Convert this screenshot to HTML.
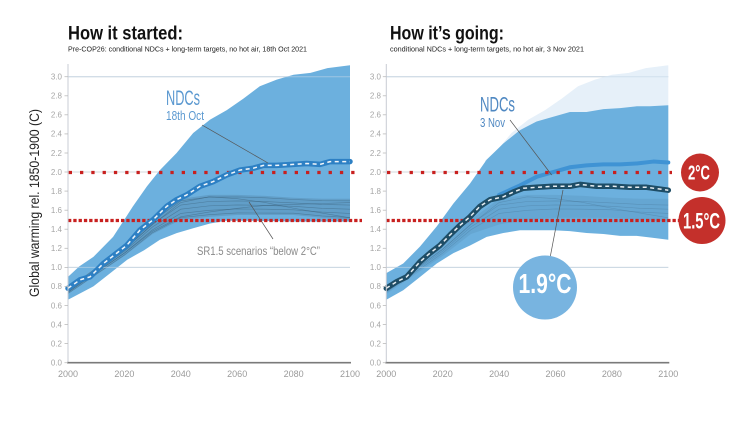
<!DOCTYPE html>
<html>
<head>
<meta charset="utf-8">
<style>
html,body{margin:0;padding:0;background:#fff;}
svg{display:block;}
text{font-family:"Liberation Sans Narrow","Liberation Sans",sans-serif;}
</style>
</head>
<body>
<svg width="754" height="422" viewBox="0 0 754 422" xmlns="http://www.w3.org/2000/svg">
<rect width="754" height="422" fill="#fff"/>

<!-- Titles -->
<text x="68" y="39.5" font-size="19" font-weight="bold" fill="#111" textLength="115" lengthAdjust="spacingAndGlyphs">How it started:</text>
<text x="68" y="51.5" font-size="7.5" fill="#222" textLength="239" lengthAdjust="spacingAndGlyphs">Pre-COP26: conditional NDCs + long-term targets, no hot air, 18th Oct 2021</text>
<text x="390" y="39.5" font-size="19" font-weight="bold" fill="#111" textLength="114" lengthAdjust="spacingAndGlyphs">How it’s going:</text>
<text x="390" y="51.5" font-size="7.5" fill="#222" textLength="194" lengthAdjust="spacingAndGlyphs">conditional NDCs + long-term targets, no hot air, 3 Nov 2021</text>

<!-- Y axis label -->
<text transform="translate(39,203) rotate(-90)" text-anchor="middle" font-size="14" fill="#222" textLength="188" lengthAdjust="spacingAndGlyphs">Global warming rel. 1850-1900 (C)</text>

<!-- ================= LEFT CHART ================= -->
<g>
  <!-- gridlines -->
  <g stroke="#d3d8de" stroke-width="1">
    <line x1="68" y1="76.7" x2="350" y2="76.7"/>
    <line x1="68" y1="172" x2="350" y2="172"/>
    <line x1="68" y1="267.4" x2="350" y2="267.4"/>
  </g>
  <!-- band -->
  <path fill="#6cb0de" d="M68,276.9 L79.3,266.4 L93.4,256.9 L113.1,236.9 L132.9,206.4 L147,186.3 L159.9,170.1 L176.6,153 L193.2,133 L210.1,119.6 L226.8,110.1 L243.4,98.6 L259.8,86.2 L276.7,79.6 L293.6,74.8 L310.5,72.9 L327.4,68.1 L350,65.3 L350,221.6 L293.6,221.6 L251.3,220.7 L225.9,220.7 L210.1,223.5 L193.2,228.3 L176.6,233.1 L159.9,239.7 L144.1,250.2 L127.2,259.7 L110.3,273.1 L93.4,286.4 L68,299.8 Z"/>
  <!-- scenario bundle -->
  <g transform="translate(68,362.7) scale(2.82,-95.33)">
    <path fill="#3b5f7a" fill-opacity="0.22" d="M0,.72 L10,.92 L20,1.12 L30,1.35 L40,1.5 L50,1.53 L60,1.55 L70,1.55 L80,1.55 L90,1.52 L100,1.5 L100,1.72 L90,1.72 L80,1.73 L70,1.75 L60,1.76 L50,1.76 L40,1.72 L30,1.5 L20,1.22 L10,1 L0,.78 Z"/>
    <g fill="none" stroke="#2c4a60" stroke-opacity="0.4" stroke-width="0.6" vector-effect="non-scaling-stroke">
      <path vector-effect="non-scaling-stroke" d="M0,.726 L10,.928 L20,1.13 L30,1.365 L40,1.522 L50,1.553 L60,1.571 L70,1.57 L80,1.568 L90,1.54 L100,1.522"/>
      <path vector-effect="non-scaling-stroke" d="M0,.738 L10,.944 L20,1.15 L30,1.395 L40,1.566 L50,1.599 L60,1.613 L70,1.61 L80,1.604 L90,1.58 L100,1.566"/>
      <path vector-effect="non-scaling-stroke" d="M0,.75 L10,.96 L20,1.17 L30,1.425 L40,1.61 L50,1.645 L60,1.655 L70,1.65 L80,1.64 L90,1.62 L100,1.61"/>
      <path vector-effect="non-scaling-stroke" d="M0,.762 L10,.976 L20,1.19 L30,1.455 L40,1.654 L50,1.691 L60,1.697 L70,1.69 L80,1.676 L90,1.66 L100,1.654"/>
      <path vector-effect="non-scaling-stroke" d="M0,.774 L10,.992 L20,1.21 L30,1.485 L40,1.698 L50,1.737 L60,1.739 L70,1.73 L80,1.712 L90,1.7 L100,1.698"/>
      <path vector-effect="non-scaling-stroke" d="M0,.75 L10,.97 L20,1.19 L30,1.45 L40,1.68 L50,1.74 L60,1.72 L70,1.68 L80,1.62 L90,1.57 L100,1.52"/>
      <path vector-effect="non-scaling-stroke" d="M0,.74 L10,.95 L20,1.15 L30,1.38 L40,1.53 L50,1.58 L60,1.62 L70,1.65 L80,1.66 L90,1.67 L100,1.68"/>
    </g>
  </g>
  <!-- gridline overlay -->
  <g stroke="#c3d6e6" stroke-opacity="0.6" stroke-width="1">
    <line x1="68" y1="76.7" x2="350" y2="76.7"/>
    <line x1="68" y1="267.4" x2="350" y2="267.4"/>
  </g>
  <!-- red dotted lines -->
  <line x1="68.7" y1="172.5" x2="362" y2="172.5" stroke="#c8201f" stroke-width="3.3" stroke-dasharray="3.3 8"/>
  <line x1="68" y1="220.5" x2="362" y2="220.5" stroke="#c8201f" stroke-width="3.3" stroke-dasharray="3.3 2"/>
  <!-- NDC line -->
  <polyline fill="none" stroke="#2d80c4" stroke-width="5.5" stroke-linejoin="round" stroke-linecap="round" points="68,288.3 80.1,279.8 90,276.9 103.3,263.6 116.8,253.1 126.7,245.4 139.9,230.2 153.2,219.7 166.7,206.4 176.6,199.7 186.7,194.9 200,186.3 213.2,181.6 226.8,174.9 240,170.1 253.3,168.2 263.4,165.4 276.7,165.4 293.3,164.4 306.6,163.5 320.1,164.4 330,161.6 350,161.6"/>
  <polyline fill="none" stroke="#f2f6fa" stroke-width="1.5" stroke-dasharray="4 3.5" stroke-linejoin="round" points="68,288.3 80.1,279.8 90,276.9 103.3,263.6 116.8,253.1 126.7,245.4 139.9,230.2 153.2,219.7 166.7,206.4 176.6,199.7 186.7,194.9 200,186.3 213.2,181.6 226.8,174.9 240,170.1 253.3,168.2 263.4,165.4 276.7,165.4 293.3,164.4 306.6,163.5 320.1,164.4 330,161.6 350,161.6"/>
  <!-- axes -->
  <line x1="68" y1="64" x2="68" y2="363" stroke="#c8ccd4" stroke-width="1"/>
  <line x1="67" y1="362.7" x2="351" y2="362.7" stroke="#7a7a7a" stroke-width="1.6"/>
  <g stroke="#bbb" stroke-width="0.8">
    <line x1="64.5" y1="362.7" x2="68" y2="362.7"/><line x1="64.5" y1="343.6" x2="68" y2="343.6"/><line x1="64.5" y1="324.6" x2="68" y2="324.6"/><line x1="64.5" y1="305.5" x2="68" y2="305.5"/><line x1="64.5" y1="286.4" x2="68" y2="286.4"/><line x1="64.5" y1="267.4" x2="68" y2="267.4"/><line x1="64.5" y1="248.3" x2="68" y2="248.3"/><line x1="64.5" y1="229.2" x2="68" y2="229.2"/><line x1="64.5" y1="210.2" x2="68" y2="210.2"/><line x1="64.5" y1="191.1" x2="68" y2="191.1"/><line x1="64.5" y1="172" x2="68" y2="172"/><line x1="64.5" y1="153" x2="68" y2="153"/><line x1="64.5" y1="133.9" x2="68" y2="133.9"/><line x1="64.5" y1="114.8" x2="68" y2="114.8"/><line x1="64.5" y1="95.8" x2="68" y2="95.8"/><line x1="64.5" y1="76.7" x2="68" y2="76.7"/>
  </g>
  <g font-size="8" fill="#a6a6a6" text-anchor="end" style="font-family:'Liberation Sans',sans-serif">
    <text x="62" y="365.5">0.0</text><text x="62" y="346.4">0.2</text><text x="62" y="327.4">0.4</text><text x="62" y="308.3">0.6</text><text x="62" y="289.2">0.8</text><text x="62" y="270.2">1.0</text><text x="62" y="251.1">1.2</text><text x="62" y="232">1.4</text><text x="62" y="213">1.6</text><text x="62" y="193.9">1.8</text><text x="62" y="174.8">2.0</text><text x="62" y="155.8">2.2</text><text x="62" y="136.7">2.4</text><text x="62" y="117.6">2.6</text><text x="62" y="98.6">2.8</text><text x="62" y="79.5">3.0</text>
  </g>
  <g font-size="9" fill="#9a9a9a" text-anchor="middle" style="font-family:'Liberation Sans',sans-serif">
    <text x="68" y="377">2000</text><text x="124.4" y="377">2020</text><text x="180.8" y="377">2040</text><text x="237.2" y="377">2060</text><text x="293.6" y="377">2080</text><text x="350" y="377">2100</text>
  </g>
  <!-- annotations -->
  <line x1="202" y1="125" x2="268" y2="163" stroke="#555" stroke-width="0.7"/>
  <line x1="249" y1="202" x2="273" y2="239" stroke="#555" stroke-width="0.7"/>
  <text x="166" y="105" font-size="21" fill="#5a98d0" textLength="34" lengthAdjust="spacingAndGlyphs">NDCs</text>
  <text x="166" y="120" font-size="12.5" fill="#5a98d0" textLength="38" lengthAdjust="spacingAndGlyphs">18th Oct</text>
  <text x="197" y="255" font-size="12" fill="#8a8a8a" textLength="123" lengthAdjust="spacingAndGlyphs">SR1.5 scenarios “below 2°C”</text>
</g>

<!-- ================= RIGHT CHART ================= -->
<g>
  <g stroke="#d3d8de" stroke-width="1">
    <line x1="386.3" y1="76.7" x2="668.3" y2="76.7"/>
    <line x1="386.3" y1="172" x2="668.3" y2="172"/>
    <line x1="386.3" y1="267.4" x2="668.3" y2="267.4"/>
  </g>
  <g transform="translate(386.3,362.7) scale(2.82,-95.33)">
    <path fill="#e6f0f9" d="M35,2.12 L38.5,2.2 L44.4,2.41 L50.4,2.55 L56.3,2.65 L62.2,2.77 L68,2.9 L74,2.97 L80,3.02 L86,3.04 L92,3.09 L100,3.12 L100,2.0 L35,2.0 Z"/>
    <path fill="#6cb0de" d="M0,.94 L6,1.04 L12,1.22 L17.9,1.43 L23.8,1.67 L29.7,1.88 L35.6,2.13 L41.5,2.3 L47.4,2.44 L53.3,2.53 L59.2,2.58 L65.1,2.63 L71,2.63 L77,2.66 L82.9,2.67 L88.8,2.69 L93.5,2.69 L100,2.7 L100,1.29 L94.7,1.31 L88.8,1.33 L82.9,1.33 L77,1.35 L71,1.36 L65.1,1.38 L59.2,1.39 L47.4,1.39 L41.5,1.36 L35.6,1.32 L29.7,1.23 L23.8,1.15 L17.9,1.04 L12,.9 L6,.76 L0,.66 Z"/>
    <path fill="#3b5f7a" fill-opacity="0.12" d="M0,.72 L10,.92 L20,1.12 L30,1.35 L40,1.45 L50,1.5 L60,1.52 L70,1.52 L80,1.52 L90,1.5 L100,1.48 L100,1.72 L90,1.72 L80,1.73 L70,1.75 L60,1.76 L50,1.76 L40,1.72 L30,1.5 L20,1.22 L10,1 L0,.78 Z"/>
    <g fill="none" stroke="#2c4a60" stroke-opacity="0.22" stroke-width="0.6">
      <path vector-effect="non-scaling-stroke" d="M0,.738 L10,.944 L20,1.15 L30,1.395 L40,1.566 L50,1.599 L60,1.613 L70,1.61 L80,1.604 L90,1.58 L100,1.566"/>
      <path vector-effect="non-scaling-stroke" d="M0,.75 L10,.96 L20,1.17 L30,1.425 L40,1.61 L50,1.645 L60,1.655 L70,1.65 L80,1.64 L90,1.62 L100,1.61"/>
      <path vector-effect="non-scaling-stroke" d="M0,.762 L10,.976 L20,1.19 L30,1.455 L40,1.654 L50,1.691 L60,1.697 L70,1.69 L80,1.676 L90,1.66 L100,1.654"/>
      <path vector-effect="non-scaling-stroke" d="M0,.75 L10,.97 L20,1.19 L30,1.45 L40,1.68 L50,1.74 L60,1.72 L70,1.68 L80,1.62 L90,1.57 L100,1.52"/>
    </g>
    <path fill="none" stroke="#3f93d4" stroke-width="4" stroke-linecap="round" stroke-linejoin="round" vector-effect="non-scaling-stroke" d="M40,1.76 L47.4,1.86 L53.3,1.95 L59.2,2 L65.1,2.05 L71,2.07 L77,2.08 L82.9,2.08 L88.8,2.09 L94.7,2.11 L100,2.1"/>
  </g>
  <g stroke="#c3d6e6" stroke-opacity="0.6" stroke-width="1">
    <line x1="386.3" y1="76.7" x2="668.3" y2="76.7"/>
    <line x1="386.3" y1="267.4" x2="668.3" y2="267.4"/>
  </g>
  <line x1="387" y1="172.5" x2="672" y2="172.5" stroke="#c8201f" stroke-width="3.3" stroke-dasharray="3.3 8"/>
  <line x1="386.3" y1="220.5" x2="682" y2="220.5" stroke="#c8201f" stroke-width="3.3" stroke-dasharray="3.3 2"/>
  <polyline fill="none" stroke="#1e4d66" stroke-width="5.5" stroke-linejoin="round" stroke-linecap="round" points="386.3,288.3 396.7,281.7 406.6,276.9 420.1,261.7 430,253.1 439.9,245.4 450,235 459.9,225.4 470,216.8 479.9,206.4 490.1,199.7 503.3,196.8 513.2,192.1 523.4,188.2 536.6,187.3 553.2,186.3 569.9,186.3 580,184.4 596.7,186.3 613.3,186.3 630,187.3 646.6,187.3 668.3,190.2"/>
  <polyline fill="none" stroke="#e8edf0" stroke-width="1.5" stroke-dasharray="4 3.5" stroke-linejoin="round" points="386.3,288.3 396.7,281.7 406.6,276.9 420.1,261.7 430,253.1 439.9,245.4 450,235 459.9,225.4 470,216.8 479.9,206.4 490.1,199.7 503.3,196.8 513.2,192.1 523.4,188.2 536.6,187.3 553.2,186.3 569.9,186.3 580,184.4 596.7,186.3 613.3,186.3 630,187.3 646.6,187.3 668.3,190.2"/>
  <!-- axes -->
  <line x1="386.3" y1="64" x2="386.3" y2="363" stroke="#c8ccd4" stroke-width="1"/>
  <line x1="385.3" y1="362.7" x2="669.3" y2="362.7" stroke="#7a7a7a" stroke-width="1.6"/>
  <g stroke="#bbb" stroke-width="0.8">
    <line x1="382.8" y1="362.7" x2="386.3" y2="362.7"/><line x1="382.8" y1="343.6" x2="386.3" y2="343.6"/><line x1="382.8" y1="324.6" x2="386.3" y2="324.6"/><line x1="382.8" y1="305.5" x2="386.3" y2="305.5"/><line x1="382.8" y1="286.4" x2="386.3" y2="286.4"/><line x1="382.8" y1="267.4" x2="386.3" y2="267.4"/><line x1="382.8" y1="248.3" x2="386.3" y2="248.3"/><line x1="382.8" y1="229.2" x2="386.3" y2="229.2"/><line x1="382.8" y1="210.2" x2="386.3" y2="210.2"/><line x1="382.8" y1="191.1" x2="386.3" y2="191.1"/><line x1="382.8" y1="172" x2="386.3" y2="172"/><line x1="382.8" y1="153" x2="386.3" y2="153"/><line x1="382.8" y1="133.9" x2="386.3" y2="133.9"/><line x1="382.8" y1="114.8" x2="386.3" y2="114.8"/><line x1="382.8" y1="95.8" x2="386.3" y2="95.8"/><line x1="382.8" y1="76.7" x2="386.3" y2="76.7"/>
  </g>
  <g font-size="8" fill="#a6a6a6" text-anchor="end" style="font-family:'Liberation Sans',sans-serif">
    <text x="381" y="365.5">0.0</text><text x="381" y="346.4">0.2</text><text x="381" y="327.4">0.4</text><text x="381" y="308.3">0.6</text><text x="381" y="289.2">0.8</text><text x="381" y="270.2">1.0</text><text x="381" y="251.1">1.2</text><text x="381" y="232">1.4</text><text x="381" y="213">1.6</text><text x="381" y="193.9">1.8</text><text x="381" y="174.8">2.0</text><text x="381" y="155.8">2.2</text><text x="381" y="136.7">2.4</text><text x="381" y="117.6">2.6</text><text x="381" y="98.6">2.8</text><text x="381" y="79.5">3.0</text>
  </g>
  <g font-size="9" fill="#9a9a9a" text-anchor="middle" style="font-family:'Liberation Sans',sans-serif">
    <text x="386.3" y="377">2000</text><text x="442.7" y="377">2020</text><text x="499.1" y="377">2040</text><text x="555.5" y="377">2060</text><text x="611.9" y="377">2080</text><text x="668.3" y="377">2100</text>
  </g>
  <!-- annotations -->
  <line x1="510" y1="120" x2="551.7" y2="175" stroke="#555" stroke-width="0.7"/>
  <line x1="563" y1="190" x2="550" y2="258" stroke="#555" stroke-width="0.7"/>
  <text x="480" y="111.7" font-size="21" fill="#4f88c2" textLength="35" lengthAdjust="spacingAndGlyphs">NDCs</text>
  <text x="480" y="127" font-size="12.5" fill="#4f88c2" textLength="25" lengthAdjust="spacingAndGlyphs">3 Nov</text>

  <!-- circles -->
  <circle cx="545" cy="287.5" r="32" fill="#78b4e0"/>
  <text x="545" y="293" font-size="28" font-weight="bold" fill="#fff" text-anchor="middle" textLength="53" lengthAdjust="spacingAndGlyphs">1.9°C</text>
  <circle cx="700" cy="172.5" r="19" fill="#c4302b"/>
  <text x="699" y="179.5" font-size="20" font-weight="bold" fill="#fff" text-anchor="middle" textLength="22" lengthAdjust="spacingAndGlyphs">2°C</text>
  <circle cx="702" cy="220.5" r="23.5" fill="#c4302b"/>
  <text x="701.5" y="228.5" font-size="22" font-weight="bold" fill="#fff" text-anchor="middle" textLength="37" lengthAdjust="spacingAndGlyphs">1.5°C</text>
</g>
</svg>
</body>
</html>
